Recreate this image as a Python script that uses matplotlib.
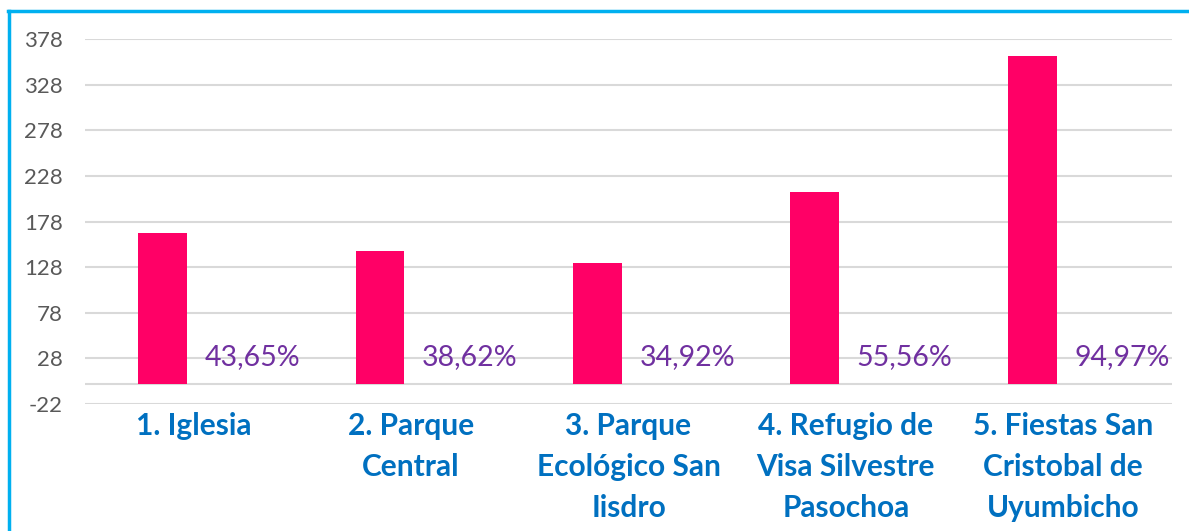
import matplotlib
matplotlib.use("Agg")
import matplotlib.pyplot as plt
from matplotlib.lines import Line2D
import numpy as np

categories = ["1. Iglesia", "2. Parque\nCentral", "3. Parque\nEcológico San\nIisdro",
              "4. Refugio de\nVisa Silvestre\nPasochoa", "5. Fiestas San\nCristobal de\nUyumbicho"]
counts = [165, 146, 132, 210, 359]
percents = [0.4365, 0.3862, 0.3492, 0.5556, 0.9497]
yticks = [-22, 28, 78, 128, 178, 228, 278, 328, 378]

fig = plt.figure(figsize=(11.89, 5.31), dpi=100)
ax = fig.add_axes([85/1189, (531-404)/531, (1172-85)/1189, 365/531])

x = np.arange(len(categories))
bw = 0.225
ax.bar(x - 0.143, counts, width=bw, color="#FF0066", zorder=3)
for xi, p in zip(x, percents):
    lab = f"{p*100:.2f}%".replace(".", ",")
    ax.text(xi + 0.27, 30, lab, ha="center", va="center", fontsize=20.5,
            family="Lato", color="#7030A0", zorder=4)

ax.set_xlim(-0.5, len(categories) - 0.5)
ax.set_ylim(-22, 378)
ax.set_yticks(yticks)
ax.set_yticklabels([str(t) for t in yticks], fontsize=16, family="Lato", color="#595959")
ax.set_xticks(x)
ax.set_xticklabels(categories, fontsize=21.5, family="Lato", fontweight="bold",
                   color="#0070C0", linespacing=1.55, va="top")
ax.tick_params(axis="both", length=0)
ax.tick_params(axis="y", pad=16)
ax.tick_params(axis="x", pad=6)
for s in ax.spines.values():
    s.set_visible(False)
ax.grid(axis="y", color="#D9D9D9", linewidth=1.5, zorder=0)
ax.axhline(0, color="#D9D9D9", linewidth=1.5, zorder=1)

fig.add_artist(Line2D([8.5/1189, 8.5/1189], [0, 1 - 11/531], color="#00B0F0", linewidth=2.5,
                      transform=fig.transFigure))
fig.add_artist(Line2D([7.5/1189, 1], [1 - 11/531, 1 - 11/531], color="#00B0F0", linewidth=2.5,
                      transform=fig.transFigure))

fig.savefig("out.png", dpi=100)
